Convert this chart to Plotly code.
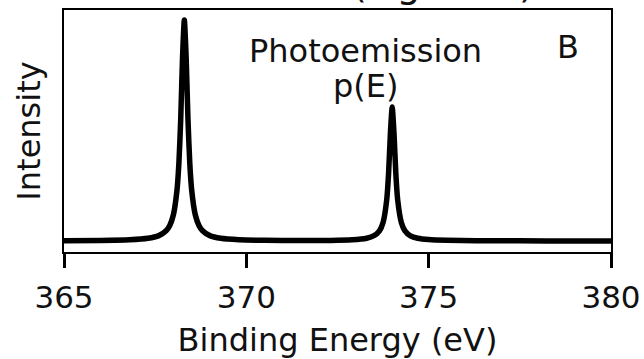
import plotly.graph_objects as go

# Binding energy (eV) and normalised photoemission intensity
energy = [365.0, 366.0, 366.8, 367.3, 367.6, 367.8, 367.9, 368.0, 368.1, 368.15,
          368.2, 368.25, 368.3, 368.35, 368.4, 368.45, 368.5, 368.6, 368.7, 368.8,
          369.0, 369.3, 369.8, 370.5, 371.5, 372.3, 372.9, 373.3, 373.5, 373.65,
          373.75, 373.85, 373.9, 373.95, 374.0, 374.05, 374.1, 374.15, 374.25, 374.35,
          374.5, 374.7, 375.0, 375.5, 376.3, 377.5, 379.0, 380.0]
intensity = [0.0012, 0.0024, 0.0055, 0.0121, 0.0243, 0.0463, 0.0705, 0.1187, 0.2324, 0.3497,
             0.5475, 0.8288, 1.0000, 0.8290, 0.5477, 0.3499, 0.2326, 0.1187, 0.0705, 0.0465,
             0.0243, 0.0122, 0.0057, 0.0030, 0.0022, 0.0028, 0.0055, 0.0126, 0.0238, 0.0461,
             0.0840, 0.1869, 0.3034, 0.4852, 0.6064, 0.4852, 0.3034, 0.1868, 0.0840, 0.0461,
             0.0237, 0.0124, 0.0063, 0.0029, 0.0013, 0.0007, 0.0004, 0.0003]

x_ticks = [365, 370, 375, 380]
x_label = "Binding Energy (eV)"
y_label = "Intensity"
label_line1 = "Photoemission"
label_line2 = "p(E)"
panel_letter = "B"
cut_title = "(Figure 1)"

FONT = "DejaVu Sans"

fig = go.Figure()
fig.add_trace(go.Scatter(x=energy, y=intensity, mode="lines",
                         line=dict(color="black", width=5.5, shape="spline", smoothing=0.6),
                         showlegend=False, hoverinfo="skip"))

fig.update_layout(
    width=644, height=359,
    margin=dict(l=64, r=33, t=10, b=107),
    paper_bgcolor="white", plot_bgcolor="white",
    font=dict(family=FONT, size=32, color="#111111"),
    xaxis=dict(range=[365, 380], tickvals=x_ticks, ticktext=[str(t) for t in x_ticks],
               ticks="outside", ticklen=14, tickwidth=3, tickcolor="black",
               showline=True, linecolor="black", linewidth=2, mirror=True,
               showgrid=False, zeroline=False, tickfont=dict(size=31), automargin=False,
               ticklabelstandoff=3,
               title=dict(text=x_label, font=dict(size=32), standoff=16)),
    yaxis=dict(range=[-0.0498, 1.0452], showticklabels=False, ticks="",
               showline=True, linecolor="black", linewidth=2, mirror=True,
               showgrid=False, zeroline=False, automargin=False,
               title=dict(text=y_label, font=dict(size=32), standoff=12)),
)

fig.add_annotation(x=373.27, y=0.86, xref="x", yref="y", text=label_line1,
                   showarrow=False, font=dict(size=32), xanchor="center", yanchor="middle")
fig.add_annotation(x=373.27, y=0.70, xref="x", yref="y", text=label_line2,
                   showarrow=False, font=dict(size=32), xanchor="center", yanchor="middle")
fig.add_annotation(x=378.83, y=0.88, xref="x", yref="y", text=panel_letter,
                   showarrow=False, font=dict(size=32), xanchor="center", yanchor="middle")
fig.add_annotation(x=0.693, y=1.010, xref="paper", yref="paper", text=cut_title,
                   showarrow=False, font=dict(size=38), xanchor="center", yanchor="bottom")

fig.write_html("out.html")
